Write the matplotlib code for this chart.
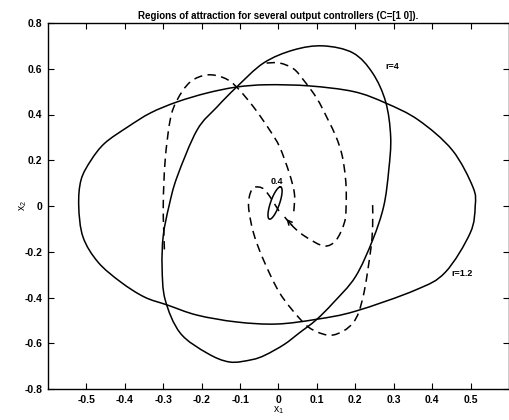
import numpy as np
from matplotlib import pyplot as plt
from matplotlib.path import Path
from matplotlib.patches import PathPatch

plt.rcParams['font.family'] = ['Liberation Sans', 'DejaVu Sans']
plt.rcParams['font.weight'] = 'bold'
plt.rcParams['mathtext.default'] = 'regular'

TITLE = 'Regions of attraction for several output controllers (C=[1 0]).'

# region boundary r=1.2
r12_x = [-0.520, -0.514, -0.488, -0.452, -0.393, -0.333, -0.264, -0.186, -0.109, -0.031,
         0.080, 0.196, 0.279, 0.364, 0.452, 0.506, 0.512, 0.499, 0.434, 0.357,
         0.200, 0.100, -0.005, -0.109, -0.212, -0.289, -0.349, -0.411, -0.470, -0.509, -0.520]
r12_y = [0.000, 0.114, 0.200, 0.275, 0.345, 0.407, 0.455, 0.494, 0.520, 0.530,
         0.525, 0.500, 0.450, 0.376, 0.245, 0.083, 0.000, -0.118, -0.290, -0.367,
         -0.460, -0.495, -0.516, -0.507, -0.477, -0.433, -0.398, -0.332, -0.245, -0.135, 0.000]

# region boundary r=4
r4_x = [0.116, 0.194, 0.245, 0.279, 0.292, 0.287, 0.274, 0.245, 0.200, 0.142,
        0.098, 0.054, 0.015, -0.035, -0.070, -0.127, -0.186, -0.256, -0.295, -0.303,
        -0.300, -0.285, -0.264, -0.212, -0.160, -0.109, -0.039, 0.039, 0.116]
r4_y = [0.700, 0.669, 0.581, 0.455, 0.302, 0.157, 0.000, -0.149, -0.310, -0.424,
        -0.498, -0.555, -0.605, -0.652, -0.672, -0.682, -0.643, -0.555, -0.410, -0.267,
        -0.130, 0.000, 0.127, 0.332, 0.433, 0.520, 0.625, 0.682, 0.700]

# small region r=0.4 (ellipse)
r04_center = (-0.009, 0.013)
r04_axes = (0.072, 0.012)
r04_tilt = (0.028, 0.140)

# trajectories (dashed)
trA_x = [-0.297, -0.300, -0.295, -0.282, -0.264, -0.230, -0.186, -0.142, -0.109, -0.065,
         -0.023, 0.003, 0.028, 0.041, 0.041, 0.039]
trA_y = [-0.190, 0.000, 0.200, 0.376, 0.463, 0.542, 0.573, 0.560, 0.520, 0.433,
         0.332, 0.258, 0.144, 0.060, 0.000, -0.030]
trB_x = [0.245, 0.245, 0.240, 0.220, 0.194, 0.142, 0.090, 0.054, 0.003, -0.039,
         -0.065, -0.078, -0.070, -0.052, -0.031, 0.008]
trB_y = [0.004, -0.090, -0.192, -0.398, -0.511, -0.564, -0.542, -0.490, -0.380, -0.236,
         -0.118, 0.000, 0.070, 0.083, 0.061, -0.040]
trC_x = [-0.031, 0.003, 0.039, 0.065, 0.100, 0.128, 0.150, 0.164, 0.172, 0.176,
         0.176, 0.172, 0.150, 0.119, 0.072, 0.039, 0.016]
trC_y = [0.625, 0.625, 0.600, 0.551, 0.470, 0.380, 0.302, 0.232, 0.157, 0.083,
         0.000, -0.070, -0.149, -0.175, -0.136, -0.092, -0.048]

xticks = [-0.5, -0.4, -0.3, -0.2, -0.1, 0, 0.1, 0.2, 0.3, 0.4, 0.5]
yticks = [-0.8, -0.6, -0.4, -0.2, 0, 0.2, 0.4, 0.6, 0.8]


def fmt(v):
  return '0' if v == 0 else f'{v:g}'


def smooth_path(xs, ys, closed=False):
  # cubic bezier through the read points (Catmull-Rom tangents)
  p = np.column_stack([xs, ys])
  n = len(p)
  verts = [p[0]]
  codes = [Path.MOVETO]
  for i in range(n - 1):
    if closed:
      p0 = p[i - 1] if i > 0 else p[-2]
      p3 = p[i + 2] if i + 2 < n else p[1]
    else:
      p0 = p[max(i - 1, 0)]
      p3 = p[min(i + 2, n - 1)]
    p1, p2 = p[i], p[i + 1]
    verts += [p1 + (p2 - p0) / 6, p2 - (p3 - p1) / 6, p2]
    codes += [Path.CURVE4] * 3
  return Path(verts, codes)


fig = plt.figure(figsize=(5.1, 4.2), dpi=100)
ax = fig.add_axes([48 / 510, 31 / 420, 461 / 510, 366 / 420])

lw = 1.1
ax.add_patch(PathPatch(smooth_path(r12_x, r12_y, True), fill=False, ec='black', lw=lw))
ax.add_patch(PathPatch(smooth_path(r4_x, r4_y, True), fill=False, ec='black', lw=lw))

t = np.linspace(0, 2 * np.pi, 100)
ang = np.arctan2(r04_tilt[1], r04_tilt[0])
ex = r04_axes[0] * np.cos(t)
ey = r04_axes[1] * np.sin(t)
ax.plot(r04_center[0] + ex * np.cos(ang) - ey * np.sin(ang),
        r04_center[1] + ex * np.sin(ang) + ey * np.cos(ang), color='black', lw=lw)

for xs, ys in [(trA_x, trA_y), (trB_x, trB_y), (trC_x, trC_y)]:
  ax.add_patch(PathPatch(smooth_path(xs, ys), fill=False, ec='black', lw=lw,
                         ls=(0, (5.5, 3.5))))

ax.annotate('', xy=(trC_x[-1], trC_y[-1]), xytext=(trC_x[-2], trC_y[-2]),
            arrowprops=dict(arrowstyle='->', color='black', lw=lw, mutation_scale=8))

ax.text(-0.005, 0.105, '0.4', fontsize=6.5, ha='center', va='center')
ax.text(0.295, 0.61, 'r=4', fontsize=6.5, ha='center', va='center')
ax.text(0.478, -0.293, 'r=1.2', fontsize=6.5, ha='center', va='center')

ax.set_xlim(-0.6, 0.6)
ax.set_ylim(-0.8, 0.8)
ax.set_xticks(xticks)
ax.set_xticklabels([fmt(v) for v in xticks])
ax.set_yticks(yticks)
ax.set_yticklabels([fmt(v) for v in yticks])
ax.tick_params(direction='in', top=True, right=True, length=4, width=0.8,
               labelsize=7.5, pad=4)
for s in ax.spines.values():
  s.set_linewidth(1.0)

ax.set_title(TITLE, fontsize=7, fontweight='bold', pad=3)
ax.set_xlabel('x$_1$', fontsize=7.5, labelpad=0)
ax.set_ylabel('x$_2$', fontsize=7.5, labelpad=-3)

fig.savefig('out.png', dpi=100)
